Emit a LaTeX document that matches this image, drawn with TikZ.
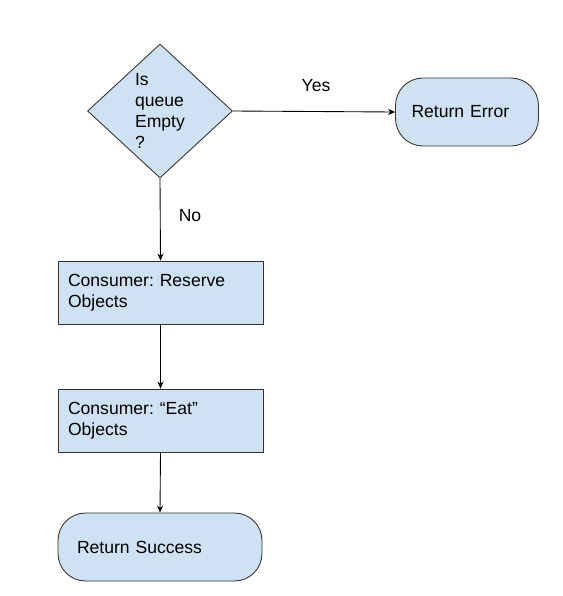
\documentclass[tikz,border=0pt]{standalone}
\usepackage{fontspec}
\setmainfont{Liberation Sans}
\usepackage{xcolor}
\usetikzlibrary{shapes.geometric,arrows.meta}
\frenchspacing

\definecolor{boxblue}{HTML}{CFE2F3}

\begin{document}
\begin{tikzpicture}[x=0.02cm,y=-0.02cm,
    font=\fontsize{10}{12}\selectfont,
    base/.style={draw=black!80,line width=0.5pt,fill=boxblue},
    decision/.style={base,diamond,inner sep=0pt,align=left,
      minimum width=2.9cm,minimum height=2.68cm},
    stepbox/.style={base,rectangle,minimum height=1.26cm,
      text width=3.7cm,inner xsep=0.2cm,align=left},
    terminal/.style={base,rectangle,rounded corners=0.55cm,
      minimum height=1.36cm,align=left},
    flow/.style={line width=0.5pt,-{Stealth[length=4pt,width=3.5pt]}}]
  % Fix the page size
  \useasboundingbox (0,0) rectangle (563,596);

  % Decision and the error end
  \node[decision] (q) at (160,111) {Is\\queue\\Empty\\?};
  \node[terminal,text width=2.22cm,inner xsep=0.32cm] (err) at (467,112) {Return Error};

  % Consumer steps
  \node[stepbox] (res) at (160.5,292.5) {Consumer: Reserve\\Objects};
  \node[stepbox] (eat) at (160.5,420.5) {Consumer: “Eat”\\Objects};

  % Success end
  \node[terminal,text width=3.32cm,inner xsep=0.38cm] (succ) at (160,547) {Return Success};

  % Branch labels
  \node (yes) at (316,86) {Yes};
  \node (no) at (190,216) {No};

  % Draw connectors
  \draw[flow] (q.east) -- (err.west);
  \draw[flow] (q.south) -- (res.north);
  \draw[flow] (res.south) -- (eat.north);
  \draw[flow] (eat.south) -- (succ.north);
\end{tikzpicture}
\end{document}
